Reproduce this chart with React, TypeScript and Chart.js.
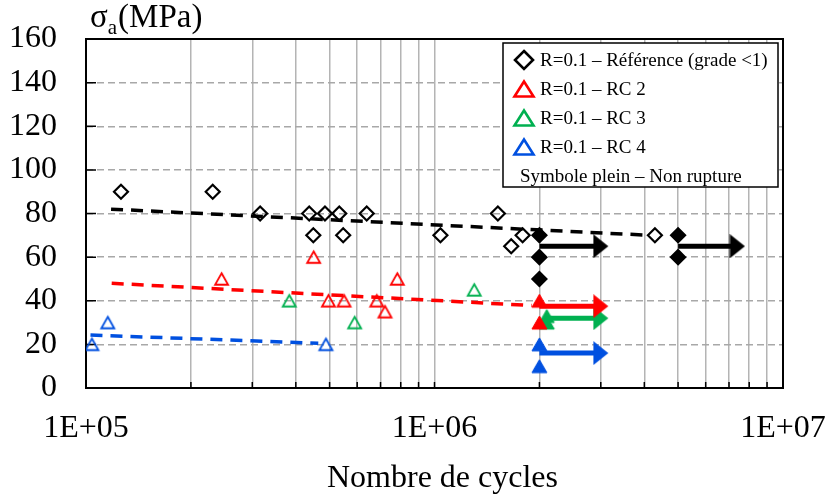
import React, { useEffect, useRef } from "react";
import { Chart, registerables } from "chart.js";

Chart.register(...registerables);

const FONT = "'Liberation Serif', 'Times New Roman', serif";

// ---- axes ----
const xDecades = [1e5, 1e6, 1e7];
const xTickLabels = ["1E+05", "1E+06", "1E+07"];
const yMin = 0;
const yMax = 160;
const yStep = 20;
const xTitle = "Nombre de cycles";

// ---- data: [cycles, stress amplitude MPa] ----
const refOpen: number[][] = [
  [1.26e5, 90], [2.31e5, 90], [3.16e5, 80], [4.37e5, 80], [4.85e5, 80], [5.33e5, 80],
  [6.39e5, 80], [4.49e5, 70], [5.47e5, 70], [1.04e6, 70], [1.52e6, 80], [1.66e6, 65],
  [1.79e6, 70], [4.29e6, 70],
];
const refFilled: number[][] = [[2e6, 70], [2e6, 60], [2e6, 50], [5e6, 70], [5e6, 60]];
const rc2Open: number[][] = [
  [2.45e5, 50], [4.5e5, 60], [4.96e5, 40], [5.5e5, 40], [6.83e5, 40], [7.21e5, 35], [7.82e5, 50],
];
const rc2Filled: number[][] = [[2e6, 40], [2e6, 30]];
const rc3Open: number[][] = [[3.83e5, 40], [5.9e5, 30], [1.3e6, 45]];
const rc3Filled: number[][] = [[2.1e6, 33], [2.1e6, 30]];
const rc4Open: number[][] = [[1.04e5, 20], [1.155e5, 30], [4.88e5, 20]];
const rc4Filled: number[][] = [[2e6, 20], [2e6, 10]];

// trend lines
const refTrend: number[][] = [[1.18e5, 82], [4.15e6, 70]];
const rc2Trend: number[][] = [[1.185e5, 48], [1.9e6, 37.8]];
const rc4Trend: number[][] = [[1.03e5, 24.3], [4.64e5, 20.5]];

// run-out arrows (start, head centre)
const refArrow1: number[][] = [[2e6, 65], [3e6, 65]];
const refArrow2: number[][] = [[5e6, 65], [7.4e6, 65]];
const rc2Arrow: number[][] = [[2e6, 37.5], [3e6, 37.5]];
const rc3Arrow: number[][] = [[2.1e6, 32], [3e6, 32]];
const rc4Arrow: number[][] = [[2e6, 16], [3e6, 16]];

// legend
const legendLabels = [
  "R=0.1 \u2013 R\u00e9f\u00e9rence (grade <1)",
  "R=0.1 \u2013 RC 2",
  "R=0.1 \u2013 RC 3",
  "R=0.1 \u2013 RC 4",
];
const legendNote = "Symbole plein \u2013 Non rupture";

const BLACK = "#000000";
const RED = "#ff0000";
const GREEN = "#00b050";
const BLUE = "#0050e0";

const pts = (a: number[][]) => a.map(([x, y]) => ({ x, y }));

function makeTriangle(color: string, filled: boolean, w: number, h: number, lw: number) {
  const pad = 3;
  const c = document.createElement("canvas");
  c.width = Math.round(w + 2 * pad);
  c.height = Math.round(h + 2 * pad);
  const g = c.getContext("2d")!;
  const ox = (c.width - w) / 2;
  const oy = (c.height - h) / 2;
  g.beginPath();
  g.moveTo(ox + w / 2, oy);
  g.lineTo(ox + w, oy + h);
  g.lineTo(ox, oy + h);
  g.closePath();
  if (filled) {
    g.fillStyle = color;
    g.fill();
    g.strokeStyle = color;
    g.lineWidth = 1;
    g.stroke();
  } else {
    g.strokeStyle = color;
    g.lineWidth = lw;
    g.stroke();
  }
  return c;
}

function makeHead(color: string) {
  const c = document.createElement("canvas");
  c.width = 16;
  c.height = 24;
  const g = c.getContext("2d")!;
  g.beginPath();
  g.moveTo(0.5, 0);
  g.lineTo(15.5, 12);
  g.lineTo(0.5, 24);
  g.closePath();
  g.fillStyle = color;
  g.fill();
  return c;
}

export default function App() {
  const ref = useRef<HTMLCanvasElement | null>(null);

  useEffect(() => {
    const canvas = ref.current;
    if (!canvas) return;

    const triOpen = (c: string) => makeTriangle(c, false, 13, 11.5, 1.8);
    const triFill = (c: string) => makeTriangle(c, true, 15, 13, 1);

    const markerSet = (data: number[][], style: any, color: string, filled: boolean, radius = 8) => ({
      data: pts(data),
      showLine: false,
      pointStyle: style,
      pointRadius: radius,
      pointHoverRadius: radius,
      pointBorderWidth: 2.2,
      pointBorderColor: color,
      pointBackgroundColor: filled ? color : "rgba(0,0,0,0)",
    });

    const trendSet = (data: number[][], color: string) => ({
      data: pts(data),
      showLine: true,
      borderColor: color,
      borderWidth: 3.5,
      borderDash: [12, 8],
      borderCapStyle: "butt",
      pointRadius: 0,
      pointHoverRadius: 0,
    });

    const arrowSet = (data: number[][], color: string) => {
      const head = makeHead(color);
      return {
        data: pts(data),
        showLine: true,
        borderColor: color,
        borderWidth: 5,
        pointRadius: (c: any) => (c.dataIndex === data.length - 1 ? 8 : 0),
        pointHoverRadius: 0,
        pointStyle: (c: any) => (c.dataIndex === data.length - 1 ? head : "circle"),
      };
    };

    const legendPlugin = {
      id: "customLegend",
      afterDatasetsDraw(chart: any) {
        const ctx = chart.ctx;
        const area = chart.chartArea;
        const bx = area.right - 280;
        const by = area.top + 4;
        const bw = 275;
        const bh = 144;
        ctx.save();
        ctx.fillStyle = "#ffffff";
        ctx.fillRect(bx, by, bw, bh);
        ctx.strokeStyle = "#000";
        ctx.lineWidth = 1.5;
        ctx.strokeRect(bx, by, bw, bh);

        const mx = bx + 21;
        const tx = bx + 37;
        const rowY = (i: number) => by + 17 + i * 29;

        ctx.beginPath();
        const d = 9;
        ctx.moveTo(mx, rowY(0) - d);
        ctx.lineTo(mx + d, rowY(0));
        ctx.lineTo(mx, rowY(0) + d);
        ctx.lineTo(mx - d, rowY(0));
        ctx.closePath();
        ctx.lineWidth = 2.6;
        ctx.strokeStyle = BLACK;
        ctx.stroke();

        const tri = (cx: number, cy: number, color: string) => {
          const w = 19, h = 15;
          ctx.beginPath();
          ctx.moveTo(cx, cy - h / 2);
          ctx.lineTo(cx + w / 2, cy + h / 2);
          ctx.lineTo(cx - w / 2, cy + h / 2);
          ctx.closePath();
          ctx.lineWidth = 2.6;
          ctx.strokeStyle = color;
          ctx.stroke();
        };
        tri(mx, rowY(1), RED);
        tri(mx, rowY(2), GREEN);
        tri(mx, rowY(3), BLUE);

        ctx.fillStyle = "#000";
        ctx.font = `19px ${FONT}`;
        ctx.textBaseline = "middle";
        ctx.textAlign = "left";
        legendLabels.forEach((t, i) => ctx.fillText(t, tx, rowY(i) + 1));
        ctx.fillText(legendNote, bx + 17, rowY(4) + 1);
        ctx.restore();
      },
    };

    const framePlugin = {
      id: "frame",
      beforeDatasetsDraw(chart: any) {
        const ctx = chart.ctx;
        const a = chart.chartArea;
        const xs = chart.scales.x;
        const ys = chart.scales.y;
        ctx.save();
        ctx.strokeStyle = "#000";
        ctx.lineWidth = 1.5;
        ctx.beginPath();
        ys.ticks.forEach((t: any) => {
          const y = ys.getPixelForValue(t.value);
          ctx.moveTo(a.left, y);
          ctx.lineTo(a.left + 10, y);
        });
        xs.ticks.forEach((t: any) => {
          const x = xs.getPixelForValue(t.value);
          ctx.moveTo(x, a.bottom);
          ctx.lineTo(x, a.bottom - 6);
        });
        ctx.stroke();
        ctx.lineWidth = 2;
        ctx.strokeRect(a.left, a.top, a.right - a.left, a.bottom - a.top);
        ctx.restore();
      },
      afterDraw(chart: any) {
        const ctx = chart.ctx;
        const a = chart.chartArea;
        ctx.save();
        ctx.fillStyle = "#000";
        ctx.textBaseline = "alphabetic";
        ctx.textAlign = "left";
        // y-axis title
        let x = a.left + 4;
        const base = a.top - 12;
        ctx.font = `33px ${FONT}`;
        ctx.fillText("\u03c3", x, base);
        x += ctx.measureText("\u03c3").width;
        ctx.font = `21px ${FONT}`;
        ctx.fillText("a", x, base + 7);
        x += ctx.measureText("a").width + 1;
        ctx.font = `33px ${FONT}`;
        ctx.fillText("(MPa)", x, base);
        // x-axis title
        ctx.font = `32px ${FONT}`;
        ctx.textAlign = "center";
        ctx.textBaseline = "middle";
        ctx.fillText(xTitle, (a.left + a.right) / 2 + 8, a.bottom + 91);
        ctx.restore();
      },
    };

    const chart = new Chart(canvas, {
      type: "scatter",
      data: {
        datasets: [
          markerSet(refOpen, "rectRot", BLACK, false, 7),
          markerSet(refFilled, "rectRot", BLACK, true, 7),
          markerSet(rc2Filled, triFill(RED), RED, true),
          markerSet(rc3Filled, triFill(GREEN), GREEN, true),
          markerSet(rc4Filled, triFill(BLUE), BLUE, true),
          markerSet(rc2Open, triOpen(RED), RED, false),
          markerSet(rc3Open, triOpen(GREEN), GREEN, false),
          markerSet(rc4Open, triOpen(BLUE), BLUE, false),
          arrowSet(refArrow1, BLACK),
          arrowSet(refArrow2, BLACK),
          arrowSet(rc2Arrow, RED),
          arrowSet(rc3Arrow, GREEN),
          arrowSet(rc4Arrow, BLUE),
          trendSet(refTrend, BLACK),
          trendSet(rc2Trend, RED),
          trendSet(rc4Trend, BLUE),
        ] as any,
      },
      options: {
        responsive: false,
        animation: false,
        devicePixelRatio: 1,
        layout: { padding: { left: 0, right: 46, top: 39, bottom: 0 } },
        plugins: { legend: { display: false }, tooltip: { enabled: false } },
        scales: {
          x: {
            type: "logarithmic",
            min: xDecades[0],
            max: xDecades[xDecades.length - 1],
            afterBuildTicks: (scale: any) => {
              const vals: number[] = [];
              for (let i = 0; i < xDecades.length - 1; i++) {
                for (let k = 1; k <= 9; k++) vals.push(k * xDecades[i]);
              }
              vals.push(xDecades[xDecades.length - 1]);
              scale.ticks = vals.map((v) => ({ value: v }));
            },
            afterFit: (scale: any) => {
              scale.height = 113;
              scale.paddingLeft = 0;
              scale.paddingRight = 0;
            },
            ticks: {
              autoSkip: false,
              maxRotation: 0,
              minRotation: 0,
              padding: 21,
              color: "#000",
              font: { family: FONT, size: 32 },
              callback: (v: any) => {
                const i = xDecades.indexOf(Number(v));
                return i >= 0 ? xTickLabels[i] : "";
              },
            },
            grid: { color: "#b4b4b4", lineWidth: 1.5, drawTicks: false },
            border: { display: false },
          },
          y: {
            min: yMin,
            max: yMax,
            afterFit: (scale: any) => {
              scale.width = 86;
              scale.paddingTop = 0;
              scale.paddingBottom = 0;
            },
            ticks: {
              stepSize: yStep,
              padding: 29,
              color: "#000",
              font: { family: FONT, size: 32 },
            },
            grid: {
              color: (c: any) =>
                c.tick && (c.tick.value === yMin || c.tick.value === yMax) ? "rgba(0,0,0,0)" : "#a8a8a8",
              lineWidth: 1.5,
              drawTicks: false,
            },
            border: { display: false, dash: [7, 4] },
          },
        },
      } as any,
      plugins: [framePlugin, legendPlugin],
    });

    return () => chart.destroy();
  }, []);

  return (
    <div style={{ position: "fixed", left: 0, top: 0, width: 829, height: 501, background: "#fff" }}>
      <canvas ref={ref} width={829} height={501} style={{ display: "block", width: 829, height: 501 }} />
    </div>
  );
}
